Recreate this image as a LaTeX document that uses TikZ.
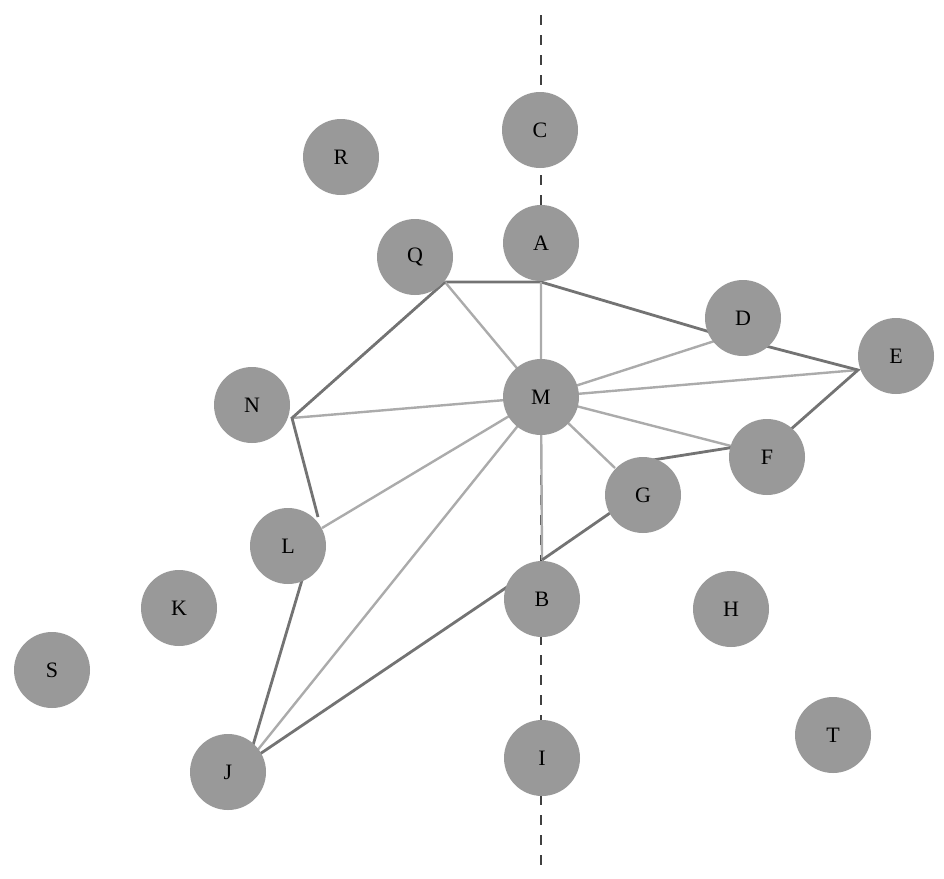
\documentclass[tikz,border=0pt]{standalone}
\usepackage{fontspec}
\setmainfont{Liberation Serif}
\begin{document}
\begin{tikzpicture}[x=1pt,y=-1pt,
  vtx/.style={circle,fill=black!40,minimum size=76pt,inner sep=0pt,font=\fontsize{22}{24}\selectfont},
  dk/.style={draw=black!55,line width=2.8pt},
  lt/.style={draw=black!33,line width=2.4pt}]
\useasboundingbox (0,0) rectangle (944,878);
\draw[black!75,line width=2pt,dash pattern=on 10pt off 10pt] (541,15) -- (541,865);
\coordinate (aS) at (541,282); \coordinate (qP) at (445,282);
\coordinate (nP) at (292,418); \coordinate (lP1) at (318,517);
\coordinate (lP2) at (322,528); \coordinate (lP3) at (302,580);
\coordinate (jP) at (248,762); \coordinate (bT) at (542,560);
\coordinate (bP) at (510,585); \coordinate (gP) at (610,513);
\coordinate (gP2) at (640,462); \coordinate (fP) at (735,447);
\coordinate (eP) at (858,370); \coordinate (dP) at (727,337);
\coordinate (dP2) at (762,345); \coordinate (fP2) at (790,430);
\coordinate (mC) at (541,397);
\draw[dk] (qP)--(aS)--(dP);
\draw[lt] (aS)--(mC) (qP)--(mC) (nP)--(mC) (lP2)--(mC) (jP)--(mC) (bT)--(mC)
  (mC)--(dP) (mC)--(eP) (mC)--(fP) (mC)--(615,468);
\draw[dk] (qP)--(nP)--(lP1) (lP3)--(jP)--(bP) (bT)--(gP) (gP2)--(fP) (fP2)--(eP)--(dP2);
\node[vtx] (C) at (540,130) {C};
\node[vtx] (R) at (341,157) {R};
\node[vtx] (A) at (541,243) {A};
\node[vtx] (Q) at (415,257) {Q};
\node[vtx] (D) at (743,318) {D};
\node[vtx] (E) at (896,356) {E};
\node[vtx] (N) at (252,405) {N};
\node[vtx] (M) at (541,397) {M};
\node[vtx] (F) at (767,457) {F};
\node[vtx] (G) at (643,495) {G};
\node[vtx] (L) at (288,546) {L};
\node[vtx] (B) at (542,599) {B};
\node[vtx] (K) at (179,608) {K};
\node[vtx] (H) at (731,609) {H};
\node[vtx] (S) at (52,670) {S};
\node[vtx] (T) at (833,735) {T};
\node[vtx] (I) at (542,758) {I};
\node[vtx] (J) at (228,772) {J};
\end{tikzpicture}
\end{document}
